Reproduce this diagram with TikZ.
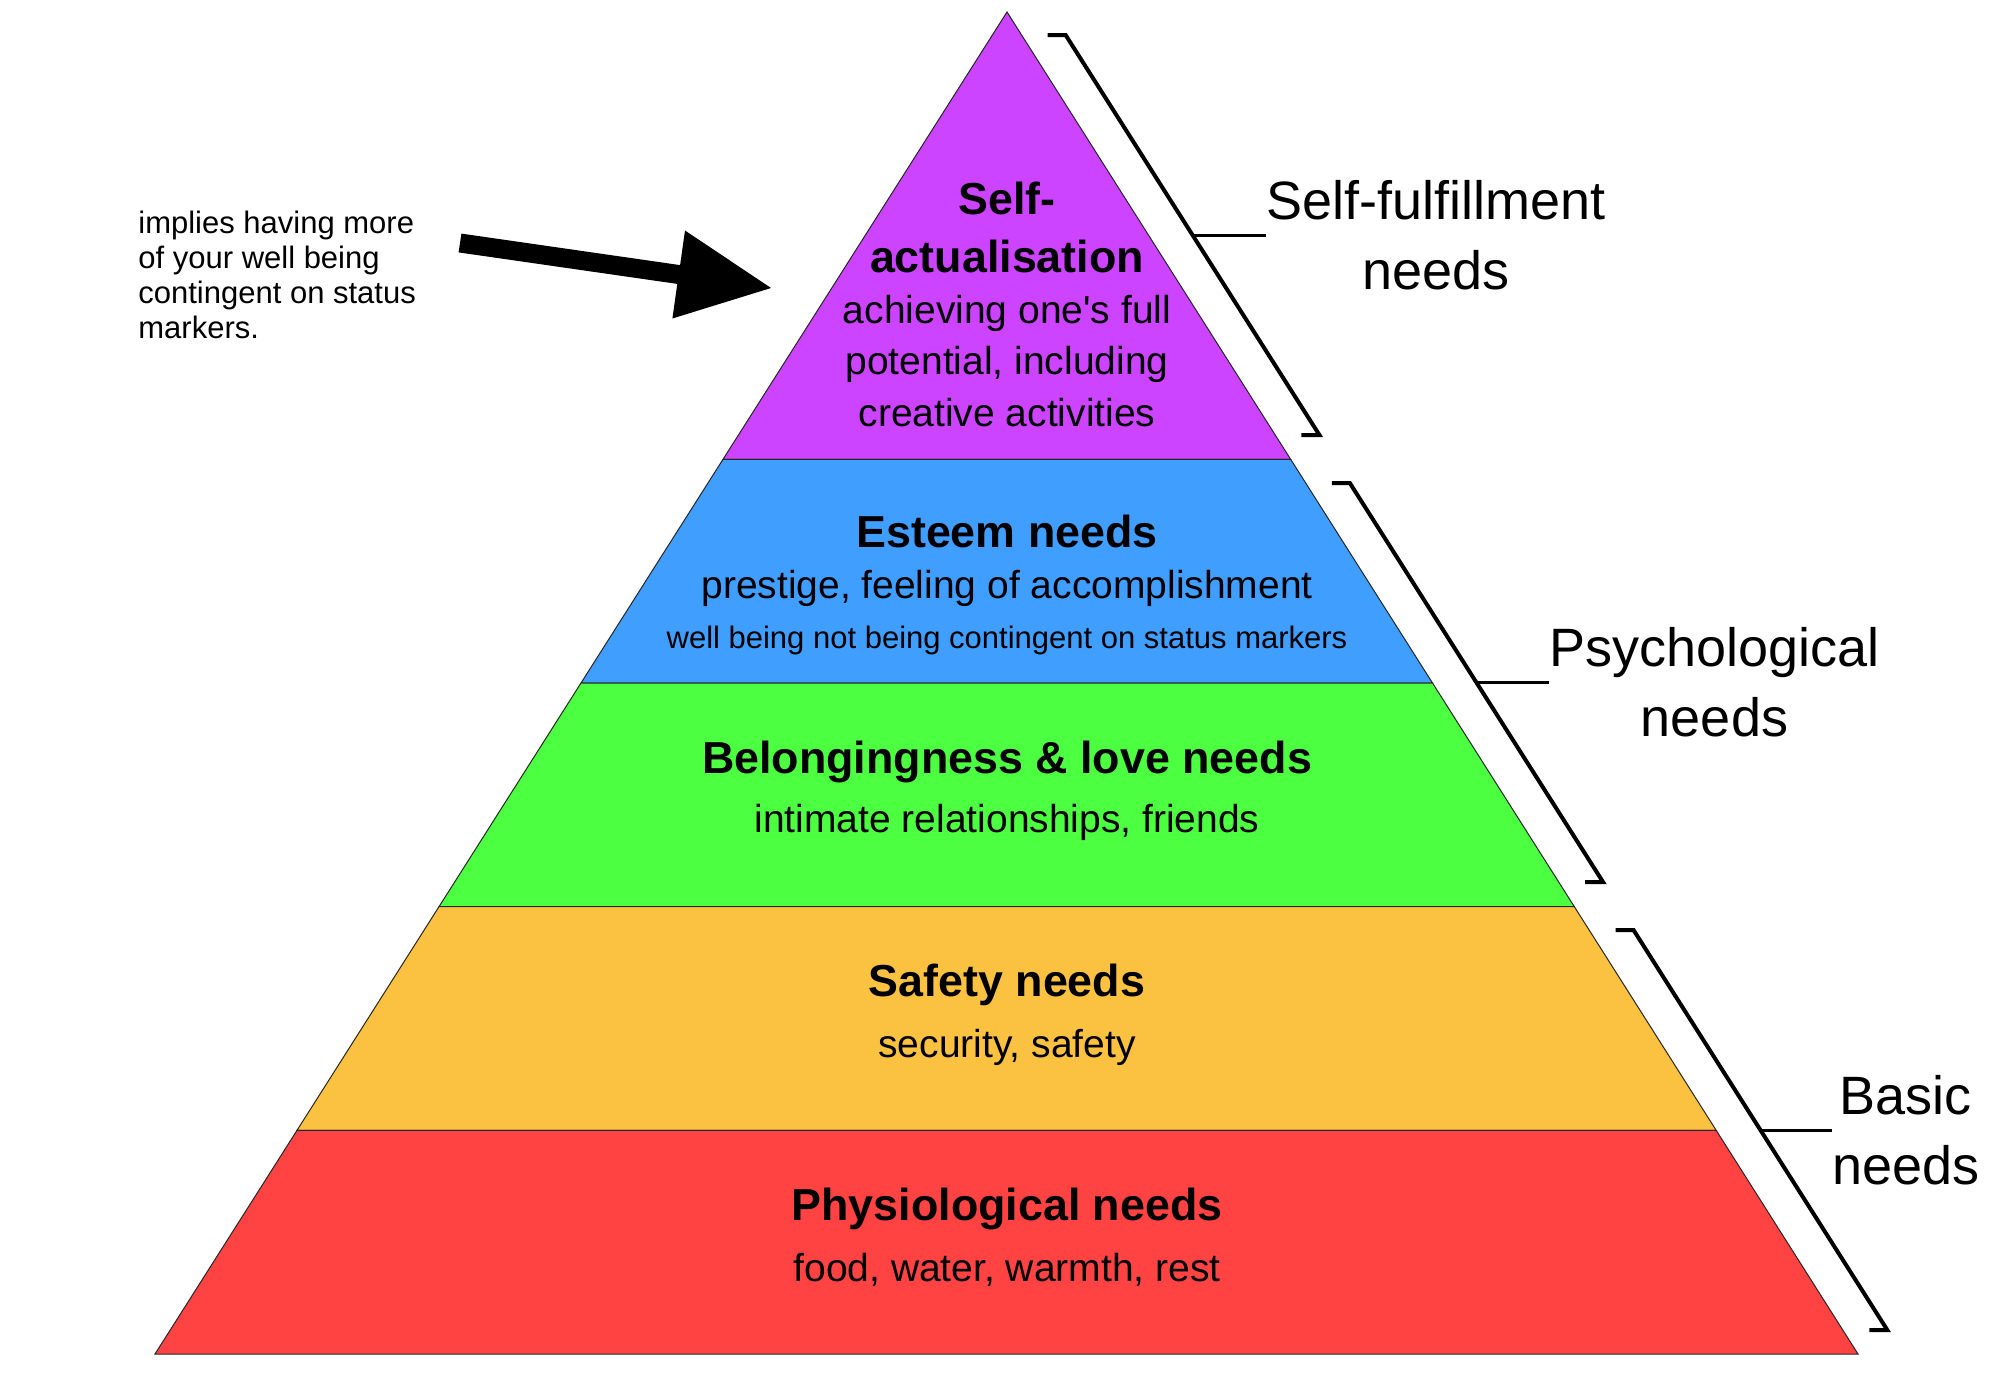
\documentclass[tikz,border=0pt]{standalone}
\usepackage{fontspec}
\setmainfont{Liberation Sans}
\usetikzlibrary{calc}
\definecolor{cPurple}{HTML}{CC44FF}
\definecolor{cBlue}{HTML}{409EFF}
\definecolor{cGreen}{HTML}{4CFF40}
\definecolor{cYellow}{HTML}{FAC240}
\definecolor{cRed}{HTML}{FF4343}
\begin{document}
\begin{tikzpicture}[x=0.5pt,y=-0.5pt,
  band/.style={draw=black!85, line width=0.5pt, line join=miter},
  brk/.style={line width=2pt, line join=miter},
  tickline/.style={line width=1.5pt},
  head/.style={font=\fontsize{22.4pt}{29pt}\bfseries\selectfont, anchor=base, inner sep=0},
  desc/.style={font=\fontsize{19.5pt}{25.5pt}\selectfont, anchor=base, inner sep=0},
  small/.style={font=\fontsize{15.5pt}{17.5pt}\selectfont, inner sep=0},
  side/.style={font=\fontsize{27pt}{35pt}\selectfont, align=center, inner sep=0, anchor=west}]
\fill[white] (0,0) rectangle (2004,1376);
\useasboundingbox (0,0) rectangle (2004,1376);

% pyramid
\coordinate (A) at (1007,12);
\coordinate (BL) at (155,1354);
\coordinate (BR) at (1858,1354);
\foreach \k in {2,3,4,5}{
  \coordinate (L\k) at ($(A)!\k/6!(BL)$);
  \coordinate (R\k) at ($(A)!\k/6!(BR)$);
}
\draw[band, fill=cPurple] (A) -- (L2) -- (R2) -- cycle;
\draw[band, fill=cBlue] (L2) -- (L3) -- (R3) -- (R2) -- cycle;
\draw[band, fill=cGreen] (L3) -- (L4) -- (R4) -- (R3) -- cycle;
\draw[band, fill=cYellow] (L4) -- (L5) -- (R5) -- (R4) -- cycle;
\draw[band, fill=cRed] (L5) -- (BL) -- (BR) -- (R5) -- cycle;

% level texts
\node[head] (sa1) at (1007,214) {Self-};
\node[head] (sa2) at (1007,272) {actualisation};
\node[desc] (sa3) at (1007,323) {achieving one\textquotesingle s full};
\node[desc] (sa4) at (1007,374) {potential, including};
\node[desc] (sa5) at (1007,426) {creative activities};
\node[head] (es1) at (1007,547) {Esteem needs};
\node[desc] (es2) at (1007,598) {prestige, feeling of accomplishment};
\node[small, anchor=base] (es3) at (1007,648) {well being not being contingent on status markers};
\node[head] (bl1) at (1007,773) {Belongingness \& love needs};
\node[desc] (bl2) at (1007,832) {intimate relationships, friends};
\node[head] (sf1) at (1007,996) {Safety needs};
\node[desc] (sf2) at (1007,1057) {security, safety};
\node[head] (ph1) at (1007,1220) {Physiological needs};
\node[desc] (ph2) at (1007,1281) {food, water, warmth, rest};

% brackets
\coordinate (b1t) at (1065.6,35);
\coordinate (b1b) at (1319.4,435);
\coordinate (b1m) at (1192.5,235);
\coordinate (b2t) at (1349.8,483);
\coordinate (b2b) at (1603,882);
\coordinate (b2m) at (1476.4,682.5);
\coordinate (b3t) at (1633.5,930);
\coordinate (b3b) at (1887.3,1330);
\coordinate (b3m) at (1760.4,1130);
\draw[brk] ($(b1t)+(-18,0)$) -- (b1t) -- (b1b) -- ($(b1b)+(-18,0)$);
\draw[brk] ($(b2t)+(-18,0)$) -- (b2t) -- (b2b) -- ($(b2b)+(-18,0)$);
\draw[brk] ($(b3t)+(-18,0)$) -- (b3t) -- (b3b) -- ($(b3b)+(-18,0)$);

\node[side] (lab1) at (1266,235) {Self-fulfillment\\needs};
\node[side] (lab2) at (1549,682.5) {Psychological\\needs};
\node[side] (lab3) at (1832,1130) {Basic\\needs};
\draw[tickline] (b1m) -- (lab1.west);
\draw[tickline] (b2m) -- (lab2.west);
\draw[tickline] (b3m) -- (lab3.west);

% note and block arrow
\node[small, align=left, anchor=base west] (note) at (138,338)
  {implies having more\\of your well being\\contingent on status\\markers.};
\fill (461.4,233.6) -- (680.1,265.1) -- (685,230.5) -- (771,288)
  -- (672.4,318.5) -- (677.3,283.9) -- (458.6,252.4) -- cycle;
\end{tikzpicture}
\end{document}
